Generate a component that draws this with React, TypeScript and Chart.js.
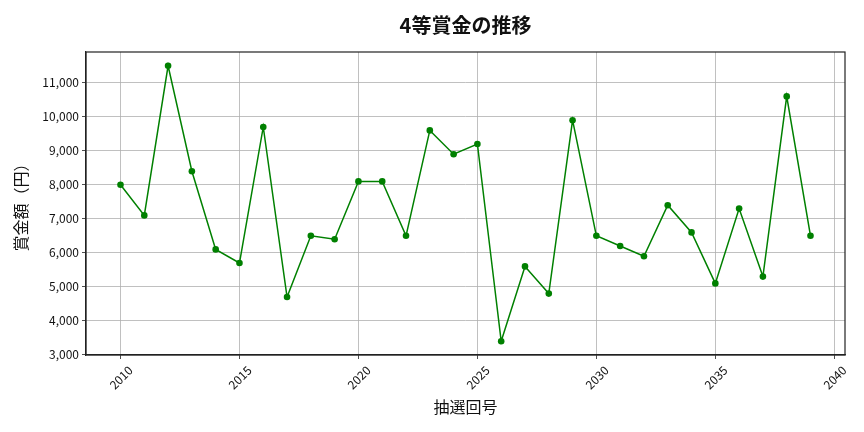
import { useEffect, useRef } from 'react';
import { Chart, registerables } from 'chart.js';

Chart.register(...registerables);

// draw numbers and their prize values (yen)
const drawNos = [
  2010, 2011, 2012, 2013, 2014, 2015, 2016, 2017, 2018, 2019,
  2020, 2021, 2022, 2023, 2024, 2025, 2026, 2027, 2028, 2029,
  2030, 2031, 2032, 2033, 2034, 2035, 2036, 2037, 2038, 2039,
];
const prizes = [
  8000, 7100, 11500, 8400, 6100, 5700, 9700, 4700, 6500, 6400,
  8100, 8100, 6500, 9600, 8900, 9200, 3400, 5600, 4800, 9900,
  6500, 6200, 5900, 7400, 6600, 5100, 7300, 5300, 10600, 6500,
];
const xTicks = [2010, 2015, 2020, 2025, 2030, 2035, 2040];
const yTicks = [3000, 4000, 5000, 6000, 7000, 8000, 9000, 10000, 11000];

const FONT = '"Noto Sans CJK JP", "Noto Sans", sans-serif';

// top/right spines like matplotlib
const frame = {
  id: 'frame',
  afterDatasetsDraw(chart: any) {
    const { ctx, chartArea: a } = chart;
    ctx.save();
    ctx.strokeStyle = '#222';
    ctx.lineWidth = 1.2;
    ctx.strokeRect(a.left, a.top, a.right - a.left, a.bottom - a.top);
    ctx.restore();
  },
};

export default function App() {
  const canvasRef = useRef<HTMLCanvasElement>(null);

  useEffect(() => {
    document.body.style.margin = '0';
    if (!canvasRef.current) return;

    const chart = new Chart(canvasRef.current, {
      type: 'line',
      data: {
        datasets: [{
          data: drawNos.map((x, i) => ({ x, y: prizes[i] })),
          borderColor: '#008000',
          backgroundColor: '#008000',
          borderWidth: 1.5,
          pointRadius: 3.3,
          pointBorderWidth: 0,
          tension: 0,
        }],
      },
      options: {
        responsive: false,
        animation: false,
        layout: { padding: { left: 0, right: 19, top: 0, bottom: 0 } },
        plugins: {
          legend: { display: false },
          tooltip: { enabled: false },
          title: {
            display: true,
            text: '4等賞金の推移',
            fullSize: false,
            color: '#111',
            font: { family: FONT, size: 20, weight: 'bold' },
            padding: { top: 13, bottom: 15 },
          },
        },
        scales: {
          x: {
            type: 'linear',
            min: 2008.55,
            max: 2040.45,
            afterBuildTicks: (s: any) => { s.ticks = xTicks.map((value) => ({ value })); },
            afterFit: (s: any) => { s.height = 77; },
            grid: { color: '#b0b0b0', lineWidth: 0.8, tickColor: '#222', tickLength: 4 },
            border: { color: '#222', width: 1.2 },
            ticks: {
              callback: (v: any) => String(v),
              minRotation: 45,
              maxRotation: 45,
              labelOffset: 10,
              padding: 4,
              color: '#111',
              font: { family: FONT, size: 12 },
            },
            title: {
              display: true,
              text: '抽選回号',
              color: '#111',
              font: { family: FONT, size: 16 },
              padding: { top: 0, bottom: 15.4 },
            },
          },
          y: {
            min: 2995,
            max: 11905,
            afterBuildTicks: (s: any) => { s.ticks = yTicks.map((value) => ({ value })); },
            afterFit: (s: any) => { s.width = 86; },
            grid: { color: '#b0b0b0', lineWidth: 0.8, tickColor: '#222', tickLength: 4 },
            border: { color: '#222', width: 1.2 },
            ticks: {
              callback: (v: any) => Number(v).toLocaleString('en-US'),
              padding: 3,
              color: '#111',
              font: { family: FONT, size: 12 },
            },
            title: {
              display: true,
              text: '賞金額（円）',
              color: '#111',
              font: { family: FONT, size: 16 },
              padding: { top: 11.4, bottom: 0 },
            },
          },
        },
      },
      plugins: [frame],
    });

    return () => chart.destroy();
  }, []);

  return (
    <div style={{ width: 864, height: 432, background: '#fff' }}>
      <canvas ref={canvasRef} width={864} height={432}></canvas>
    </div>
  );
}
